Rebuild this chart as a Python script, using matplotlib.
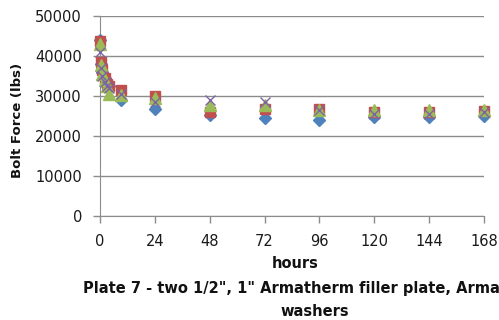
import matplotlib
matplotlib.use("Agg")
import matplotlib.pyplot as plt

hours = [0, 0.5, 1, 2, 3, 4, 9, 24, 48, 72, 96, 120, 144, 168]
s1 = [44000, 38000, 36000, 34500, 33500, 32500, 29000, 26800, 25200, 24500, 24000, 24800, 24800, 25000]
s2 = [43800, 38500, 36500, 34500, 33000, 32500, 31500, 30000, 26000, 26700, 26700, 26000, 26000, 26200]
s3 = [43000, 37800, 35500, 34000, 32500, 30500, 30200, 29500, 27800, 27700, 26500, 26500, 26500, 26500]
s4 = [41000, 37000, 35000, 33500, 32500, 32000, 30500, 28500, 29000, 28600, 26500, 25500, 25500, 26000]
xticks = [0, 24, 48, 72, 96, 120, 144, 168]
yticks = [0, 10000, 20000, 30000, 40000, 50000]

plt.rcParams['font.family'] = ['DejaVu Sans']
fig = plt.figure(figsize=(4.99, 3.2), dpi=100)
ax = fig.add_axes([100/499, 1-216/320, 384/499, 200/320])

ax.plot(hours, s1, linestyle='none', marker='D', color='#4F81BD', markersize=6.5, clip_on=False, zorder=3)
ax.plot(hours, s2, linestyle='none', marker='s', color='#C0504D', markersize=7.5, clip_on=False, zorder=4)
ax.plot(hours, s3, linestyle='none', marker='^', color='#9BBB59', markersize=8, clip_on=False, zorder=5)
ax.plot(hours, s4, linestyle='none', marker='x', color='#8064A2', markersize=7, markeredgewidth=1.0, clip_on=False, zorder=6)

ax.set_xlim(0, 168)
ax.set_ylim(0, 50000)
ax.set_xticks(xticks)
ax.set_yticks(yticks)
ax.set_xticklabels([str(t) for t in xticks])
ax.set_yticklabels([str(t) for t in yticks])
ax.grid(axis='y', color='#8c8c8c', linewidth=1.0)
ax.set_axisbelow(True)
for side in ['top', 'right']:
    ax.spines[side].set_visible(False)
ax.spines['left'].set_color('#8c8c8c')
ax.spines['bottom'].set_color('#8c8c8c')
ax.tick_params(axis='both', colors='#8c8c8c', labelcolor='#1a1a1a', labelsize=10.5, length=5, width=1)
ax.tick_params(axis='x', pad=8)
ax.tick_params(axis='y', pad=8)

fig.text(18/499, 1-120/320, 'Bolt Force (lbs)', rotation=90, ha='center', va='center', fontsize=9.5, fontweight='bold', color='#111111')
fig.text(295/499, 1-263/320, 'hours', ha='center', va='center', fontsize=10.5, fontweight='bold', color='#111111')
fig.text(83/499, 1-288/320, 'Plate 7 - two 1/2", 1" Armatherm filler plate, Armatherm', ha='left', va='center', fontsize=10.5, fontweight='bold', color='#111111')
fig.text(315/499, 1-312/320, 'washers', ha='center', va='center', fontsize=10.5, fontweight='bold', color='#111111')

fig.savefig('out.png', dpi=100)
